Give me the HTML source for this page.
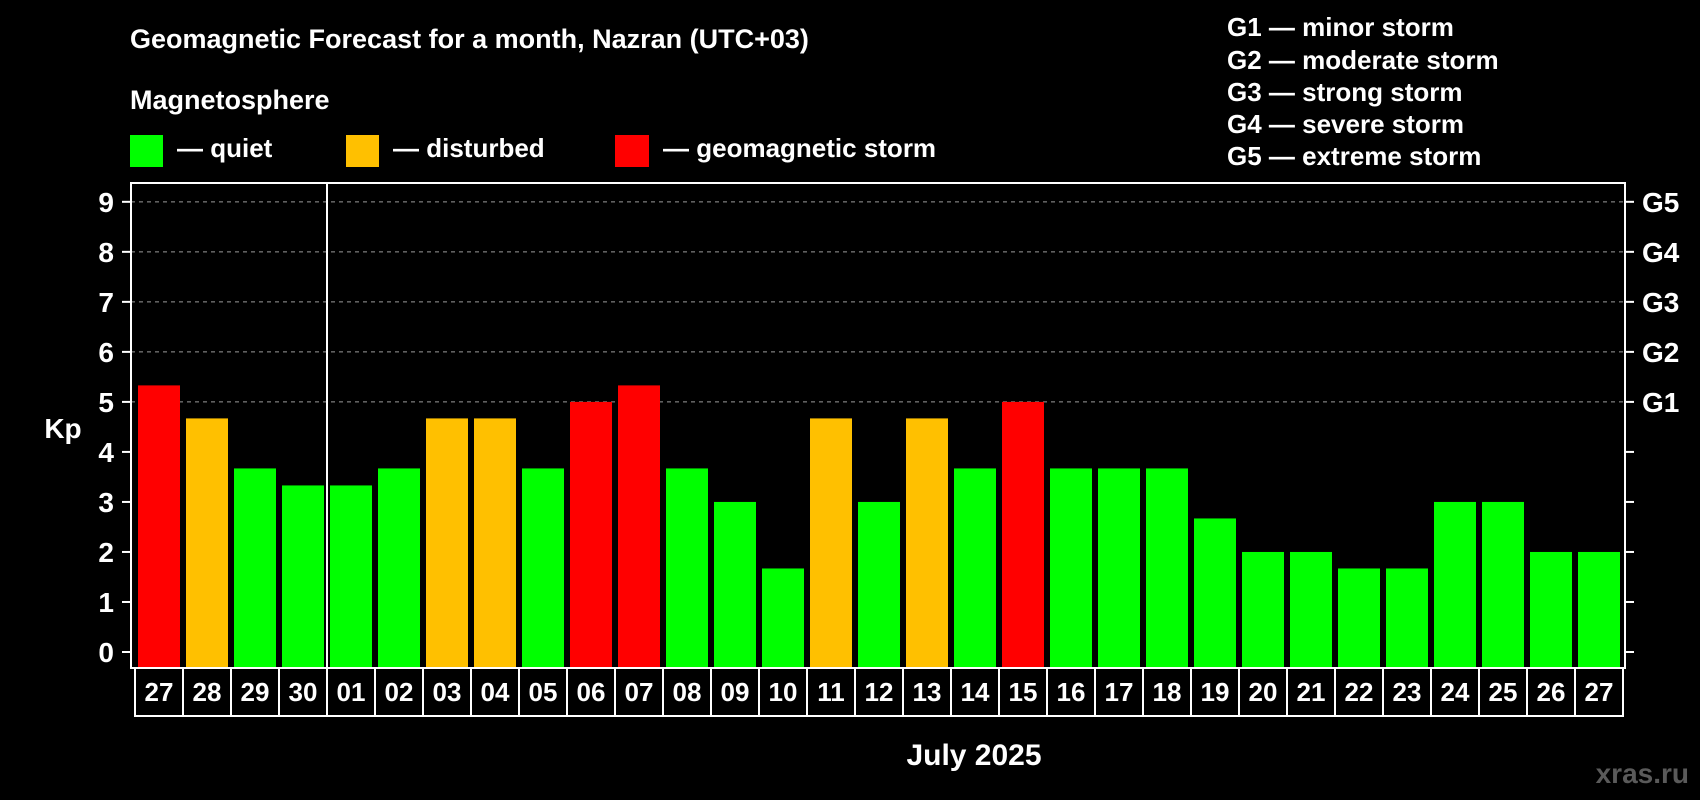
<!DOCTYPE html>
<html><head><meta charset="utf-8"><style>
html,body{margin:0;padding:0;background:#000;}
svg{display:block;font-family:"Liberation Sans",Arial,sans-serif;font-weight:bold;}
</style></head><body>
<svg id="chart" width="1700" height="800" viewBox="0 0 1700 800">
<text x="130" y="48" fill="#fff" font-size="27">Geomagnetic Forecast for a month, Nazran (UTC+03)</text>
<text x="130" y="109" fill="#fff" font-size="27">Magnetosphere</text>
<g><rect x="130" y="135" width="33" height="32" fill="#00ff00"/><text x="177" y="157" fill="#fff" font-size="26">— quiet</text></g>
<g><rect x="346" y="135" width="33" height="32" fill="#ffc000"/><text x="393" y="157" fill="#fff" font-size="26">— disturbed</text></g>
<g><rect x="615" y="135" width="34" height="32" fill="#ff0000"/><text x="663" y="157" fill="#fff" font-size="26">— geomagnetic storm</text></g>
<g fill="#fff" font-size="26">
<text x="1227" y="36">G1 — minor storm</text>
<text x="1227" y="69">G2 — moderate storm</text>
<text x="1227" y="101">G3 — strong storm</text>
<text x="1227" y="133">G4 — severe storm</text>
<text x="1227" y="165">G5 — extreme storm</text>
</g>
<g id="grid"></g>
<g id="bars"></g>
<rect x="131" y="183" width="1494" height="485" fill="none" stroke="#fff" stroke-width="2"/>
<line x1="327" y1="183" x2="327" y2="668" stroke="#fff" stroke-width="2"/>
<g id="axes"></g>
<text x="63" y="438" fill="#fff" font-size="28" text-anchor="middle">Kp</text>
<text x="974" y="765" fill="#fff" font-size="30" text-anchor="middle">July 2025</text>
<text x="1689" y="783" fill="#5a5a5a" font-size="28" text-anchor="end">xras.ru</text>
</svg>
<script>
const days = ["27","28","29","30","01","02","03","04","05","06","07","08","09","10","11","12","13","14","15","16","17","18","19","20","21","22","23","24","25","26","27"];
const kpValues = [5.33,4.67,3.67,3.33,3.33,3.67,4.67,4.67,3.67,5,5.33,3.67,3,1.67,4.67,3,4.67,3.67,5,3.67,3.67,3.67,2.67,2,2,1.67,1.67,3,3,2,2];
const yTicks = [0,1,2,3,4,5,6,7,8,9];
const gLabels = ["G1","G2","G3","G4","G5"];
const gLevels = [5,6,7,8,9];
const NS="http://www.w3.org/2000/svg";
const y0=652, unit=50.02, x0=138, pitch=48, bw=42;
const yS=v=>y0-v*unit;
const xS=i=>x0+i*pitch;
function mk(tag,attrs,parent){const e=document.createElementNS(NS,tag);for(const k in attrs)e.setAttribute(k,attrs[k]);parent.appendChild(e);return e;}
const grid=document.getElementById('grid'),bars=document.getElementById('bars'),axes=document.getElementById('axes');
gLevels.forEach((v,i)=>{
 const l=mk('line',{x1:131,x2:1625,y1:yS(v),y2:yS(v),stroke:'#999','stroke-dasharray':'4,4','stroke-width':1},grid);
 
 
 const t=mk('text',{x:1642,y:yS(v)+10,fill:'#fff','font-size':28},axes);t.textContent=gLabels[i];
 
 
});
yTicks.forEach(v=>{
 mk('line',{x1:122,x2:131,y1:yS(v),y2:yS(v),stroke:'#fff','stroke-width':2},axes);
 mk('line',{x1:1625,x2:1634,y1:yS(v),y2:yS(v),stroke:'#fff','stroke-width':2},axes);
 const t=mk('text',{x:114,y:yS(v)+10,fill:'#fff','font-size':28,'text-anchor':'end'},axes);t.textContent=v;
 
 
});
kpValues.forEach((v,i)=>{
 const c=v>=5?'#ff0000':(v>=4?'#ffc000':'#00ff00');
 const r=mk('rect',{x:xS(i),y:yS(v),width:bw,height:667-yS(v),fill:c},bars);
 
 
 const cx=xS(i)-3;
 const cell=mk('rect',{x:cx,y:668,width:pitch,height:48,fill:'none',stroke:'#fff','stroke-width':2},axes);
 
 
 const t=mk('text',{x:cx+pitch/2,y:701,fill:'#fff','font-size':26,'text-anchor':'middle'},axes);t.textContent=days[i];
 
 
});
</script>
</body></html>
